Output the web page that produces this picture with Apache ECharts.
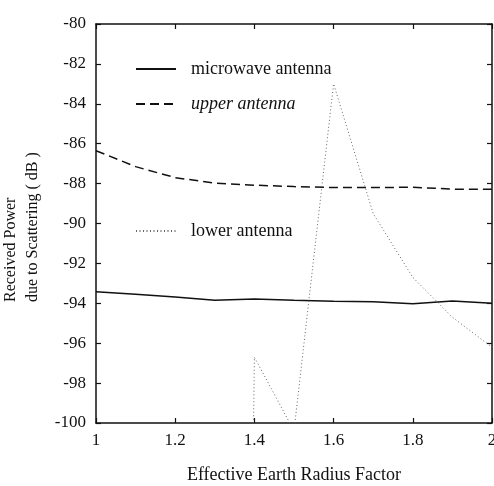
<!DOCTYPE html>
<html>
<head>
<meta charset="utf-8">
<script src="https://cdn.jsdelivr.net/npm/echarts@6/dist/echarts.min.js"></script>
<style>
  html, body { margin: 0; padding: 0; background: #fff; }
  #main { width: 494px; height: 486px; }
</style>
</head>
<body>
<div id="main"></div>
<script>
var radiusFactor = [1.0, 1.1, 1.2, 1.3, 1.4, 1.5, 1.6, 1.7, 1.8, 1.9, 2.0];
var microwave = [-93.42, -93.55, -93.68, -93.85, -93.78, -93.85, -93.9, -93.92, -94.02, -93.88, -94.0];
var upper = [-86.35, -87.15, -87.7, -87.98, -88.08, -88.15, -88.2, -88.2, -88.18, -88.28, -88.28];
// lower antenna is far below -100 up to 1.3 (off the plot)
var lower = [null, null, null, -250, -96.7, -100.4, -83.0, -89.5, -92.7, -94.7, -96.2];

var font = 'Liberation Serif';

function pairs(ys) {
  return radiusFactor.map(function (x, i) { return [x, ys[i]]; });
}

var chartDom = document.getElementById('main');
var myChart = echarts.init(chartDom);

var frameAxis = {
  axisLine: { show: true, lineStyle: { color: '#111', width: 1.5 } },
  axisTick: { show: true, inside: true, length: 5, lineStyle: { color: '#111', width: 1.2 } },
  splitLine: { show: false }
};

var legendBase = {
  orient: 'vertical',
  left: 135,
  padding: 0,
  itemWidth: 40,
  itemHeight: 18,
  itemStyle: { opacity: 0 }
};

var option = {
  backgroundColor: '#fff',
  animation: false,
  grid: { left: 96, top: 24, right: 2, bottom: 63, outerBoundsMode: 'none' },
  legend: [
    Object.assign({
      data: ['microwave antenna', 'upper antenna'],
      top: 60,
      itemGap: 17,
      formatter: function (name) {
        return name === 'upper antenna' ? '{i|' + name + '}' : name;
      },
      textStyle: {
        fontFamily: font, fontSize: 18, color: '#111', padding: [0, 0, 0, 10],
        rich: { i: { fontFamily: font, fontSize: 18, fontStyle: 'italic', color: '#111' } }
      }
    }, legendBase),
    Object.assign({
      data: ['lower antenna'],
      top: 222,
      textStyle: { fontFamily: font, fontSize: 18, color: '#111', padding: [0, 0, 0, 10] }
    }, legendBase)
  ],
  xAxis: [
    Object.assign({
      type: 'value', min: 1, max: 2, interval: 0.2,
      name: 'Effective Earth Radius Factor',
      nameLocation: 'middle',
      nameGap: 43,
      nameTextStyle: { fontFamily: font, fontSize: 18, color: '#111' },
      axisLabel: { fontFamily: font, fontSize: 17, color: '#111', margin: 9 }
    }, frameAxis),
    Object.assign({
      type: 'value', min: 1, max: 2, interval: 0.2, position: 'top',
      axisLabel: { show: false }
    }, frameAxis)
  ],
  yAxis: [
    Object.assign({
      type: 'value', min: -100, max: -80, interval: 2,
      name: '{a|Received Power}\n{a|due to Scattering ( dB )}',
      nameLocation: 'middle',
      nameRotate: 90,
      nameGap: 44,
      nameTextStyle: {
        fontFamily: font, fontSize: 16, color: '#111', lineHeight: 22,
        rich: { a: { fontFamily: font, fontSize: 16, color: '#111', lineHeight: 22, width: 157, align: 'left' } }
      },
      axisLabel: { fontFamily: font, fontSize: 17, color: '#111', margin: 10 }
    }, frameAxis),
    Object.assign({
      type: 'value', min: -100, max: -80, interval: 2, position: 'right',
      axisLabel: { show: false }
    }, frameAxis)
  ],
  series: [
    {
      name: 'microwave antenna',
      type: 'line',
      data: pairs(microwave),
      symbol: 'none',
      color: '#111',
      lineStyle: { color: '#111', width: 1.5, type: 'solid' }
    },
    {
      name: 'upper antenna',
      type: 'line',
      data: pairs(upper),
      symbol: 'none',
      color: '#111',
      lineStyle: { color: '#111', width: 1.5, type: [9, 5] }
    },
    {
      name: 'lower antenna',
      type: 'line',
      data: pairs(lower),
      symbol: 'none',
      clip: true,
      color: '#666',
      lineStyle: { color: '#666', width: 1, type: [1, 2.5] }
    }
  ]
};

myChart.setOption(option);
</script>
</body>
</html>
